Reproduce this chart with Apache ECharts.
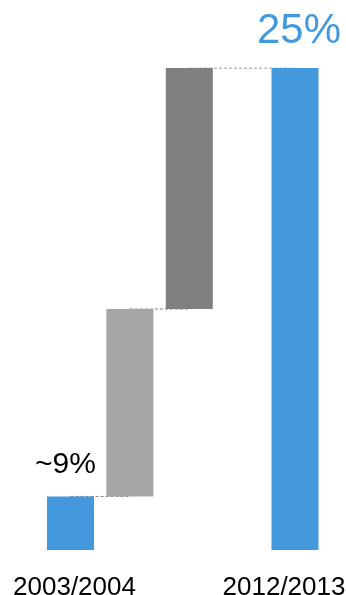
<!DOCTYPE html>
<html>
<head>
<meta charset="utf-8">
<script src="https://cdn.jsdelivr.net/npm/echarts@6/dist/echarts.min.js"></script>
<style>
  html, body { margin: 0; padding: 0; background: #fff; }
  #chart { width: 346px; height: 595px; }
</style>
</head>
<body>
<div id="chart"></div>
<script>
// 数据
var stepCategories = ['2003/2004', '', '']
var totalCategories = ['', '2012/2013']
var startValue = 9
var stepValues = [7, 9]
var totalValue = 25
var startLabel = '~9%'
var totalLabel = '25%'

var BLUE = '#4499DD'
var stepColors = [BLUE, '#A6A6A6', '#7F7F7F']

// 瀑布图：透明底座 + 可见部分
var baseData = [0]
var showData = [startValue]
var acc = startValue
stepValues.forEach(function (v) {
  baseData.push(acc)
  showData.push(v)
  acc += v
})

var myChart = echarts.init(document.getElementById('chart'))

var yCommon = {
  type: 'value',
  min: 7,
  max: 25,
  show: false,
}
var xCommon = {
  type: 'category',
  axisLine: { show: false },
  axisTick: { show: false },
  splitLine: { show: false },
}

var series = [
  {
    type: 'bar',
    stack: 'w',
    xAxisIndex: 0,
    yAxisIndex: 0,
    barWidth: 47,
    silent: true,
    itemStyle: { color: 'transparent' },
    data: baseData,
  },
  {
    type: 'bar',
    stack: 'w',
    xAxisIndex: 0,
    yAxisIndex: 0,
    barWidth: 47,
    z: 3,
    data: showData.map(function (v, i) {
      var item = { value: v, itemStyle: { color: stepColors[i] } }
      if (i === 0) {
        item.label = {
          show: true,
          position: 'top',
          distance: 17,
          offset: [-5, 0],
          formatter: startLabel,
          fontSize: 30,
          fontFamily: 'Liberation Sans, Arial',
          color: '#000',
        }
      }
      return item
    }),
  },
  {
    type: 'bar',
    xAxisIndex: 1,
    yAxisIndex: 1,
    barWidth: 47,
    z: 3,
    itemStyle: { color: BLUE },
    label: {
      show: true,
      position: 'top',
      distance: 16,
      offset: [4, 0],
      formatter: totalLabel,
      fontSize: 42,
      fontFamily: 'Liberation Sans, Arial',
      color: BLUE,
    },
    data: [null, totalValue],
  },
]

// 虚线连接
var lineStyle = { color: '#808080', width: 1, type: [3, 2] }
var level = startValue
for (var i = 0; i < stepValues.length; i++) {
  series.push({
    type: 'line',
    xAxisIndex: 0,
    yAxisIndex: 0,
    symbol: 'none',
    silent: true,
    z: 1,
    lineStyle: lineStyle,
    data: [[i, level], [i + 1, level]],
  })
  level += stepValues[i]
}
series.push({
  type: 'line',
  xAxisIndex: 1,
  yAxisIndex: 1,
  symbol: 'none',
  silent: true,
  z: 1,
  lineStyle: lineStyle,
  data: [[0, totalValue], [1, totalValue]],
})

var option = {
  animation: false,
  grid: [
    { left: 40.8, width: 178.2, top: 68, bottom: 45, outerBoundsMode: 'none' },
    { left: 136, width: 212, top: 68, bottom: 45, outerBoundsMode: 'none' },
  ],
  xAxis: [
    Object.assign({}, xCommon, {
      gridIndex: 0,
      data: stepCategories,
      axisLabel: {
        interval: 0,
        margin: 25,
        fontSize: 26,
        fontFamily: 'Liberation Sans, Arial',
        color: '#000',
        padding: [0, 0, 0, 8],
      },
    }),
    Object.assign({}, xCommon, {
      gridIndex: 1,
      data: totalCategories,
      axisLabel: {
        interval: 0,
        margin: 25,
        fontSize: 26,
        fontFamily: 'Liberation Sans, Arial',
        color: '#000',
        padding: [0, 22, 0, 0],
      },
    }),
  ],
  yAxis: [
    Object.assign({ gridIndex: 0 }, yCommon),
    Object.assign({ gridIndex: 1 }, yCommon),
  ],
  series: series,
}
myChart.setOption(option)
</script>
</body>
</html>
